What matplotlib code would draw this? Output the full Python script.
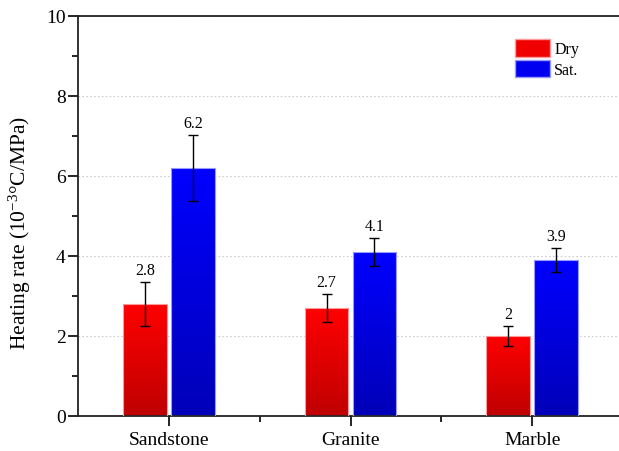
import numpy as np
import matplotlib
matplotlib.use("Agg")
import matplotlib.pyplot as plt
from matplotlib.colors import LinearSegmentedColormap
from matplotlib.patches import Patch

# Heating rate by rock type, dry vs. saturated
categories = ["Sandstone", "Granite", "Marble"]
dry_values = [2.8, 2.7, 2.0]
dry_errors = [0.55, 0.34, 0.25]
sat_values = [6.2, 4.1, 3.9]
sat_errors = [0.83, 0.34, 0.29]
dry_labels = ["2.8", "2.7", "2"]
sat_labels = ["6.2", "4.1", "3.9"]
series_names = ["Dry", "Sat."]

plt.rcParams["font.family"] = ["Liberation Serif", "DejaVu Serif"]
plt.rcParams["mathtext.fontset"] = "custom"
plt.rcParams["mathtext.rm"] = "Liberation Serif"
plt.rcParams["mathtext.it"] = "Liberation Serif:italic"
plt.rcParams["mathtext.default"] = "regular"

fig = plt.figure(figsize=(6.19, 4.52), dpi=100)
ax = fig.add_axes([78 / 619, 35 / 452, 545 / 619, 400 / 452])

x = np.arange(len(categories))
width = 0.24
gap = 0.012
offs = width / 2 + gap

red_cmap = LinearSegmentedColormap.from_list("redgrad", ["#bf0000", "#ff0000"])
blue_cmap = LinearSegmentedColormap.from_list("bluegrad", ["#0000b8", "#0000ff"])


def gradient_bars(xpos, vals, cmap, edge):
    bars = ax.bar(xpos, vals, width, color="none", edgecolor=edge,
                  linewidth=0.8, zorder=3)
    grad = np.linspace(0, 1, 256).reshape(-1, 1)
    for b in bars:
        x0, y0 = b.get_x(), b.get_y()
        w, h = b.get_width(), b.get_height()
        im = ax.imshow(grad, cmap=cmap, origin="lower", aspect="auto",
                       extent=(x0, x0 + w, y0, y0 + h), zorder=2)
        im.set_clip_path(b)
    return bars


gradient_bars(x - offs, dry_values, red_cmap, "#ff9a9a")
gradient_bars(x + offs, sat_values, blue_cmap, "#9a9aff")

ax.errorbar(x - offs, dry_values, yerr=dry_errors, fmt="none", ecolor="black",
            elinewidth=1.0, capsize=3.5, capthick=1.0, zorder=4)
ax.errorbar(x + offs, sat_values, yerr=sat_errors, fmt="none", ecolor="black",
            elinewidth=1.0, capsize=3.5, capthick=1.0, zorder=4)

for xi, v, e, lab in zip(x - offs, dry_values, dry_errors, dry_labels):
    ax.annotate(lab, (xi, v + e), xytext=(0, 3), textcoords="offset points",
                ha="center", va="bottom", fontsize=11.5, zorder=5)
for xi, v, e, lab in zip(x + offs, sat_values, sat_errors, sat_labels):
    ax.annotate(lab, (xi, v + e), xytext=(0, 3), textcoords="offset points",
                ha="center", va="bottom", fontsize=11.5, zorder=5)

ax.set_xlim(-0.5, 2.5)
ax.set_ylim(0, 10)
ax.set_xticks(x)
ax.set_xticklabels(categories, fontsize=14)
ax.set_xticks([0.5, 1.5], minor=True)
ax.set_yticks(np.arange(0, 11, 2))
ax.set_yticks(np.arange(1, 10, 2), minor=True)
ax.tick_params(axis="y", which="major", direction="out", length=7, width=1.2,
               labelsize=14, pad=2)
ax.tick_params(axis="y", which="minor", direction="out", length=4, width=1.2)
ax.tick_params(axis="x", which="major", direction="out", length=7, width=1.2,
               labelsize=14, pad=4)
ax.tick_params(axis="x", which="minor", direction="out", length=4, width=1.2)

ax.set_ylabel(r"Heating rate (10$^{-3}$°C/MPa)", fontsize=15.5)
ax.yaxis.set_label_coords(-0.083, 0.46)

for side in ["left", "bottom", "top"]:
    ax.spines[side].set_linewidth(1.3)
    ax.spines[side].set_color("#222222")
ax.spines["right"].set_visible(False)

ax.yaxis.grid(True, linestyle=(0, (1.5, 2)), color="#cccccc", linewidth=0.8)
ax.set_axisbelow(True)

handles = [Patch(facecolor="#f00000", edgecolor="#ff9a9a"),
           Patch(facecolor="#0000f0", edgecolor="#9a9aff")]
ax.legend(handles, series_names, loc="upper left",
          bbox_to_anchor=(426 / 545, 0.97), frameon=False, fontsize=11.5,
          handlelength=2.2, handleheight=1.3, handletextpad=0.25,
          labelspacing=0.15, borderpad=0.2)

fig.savefig("out.png", dpi=100)
